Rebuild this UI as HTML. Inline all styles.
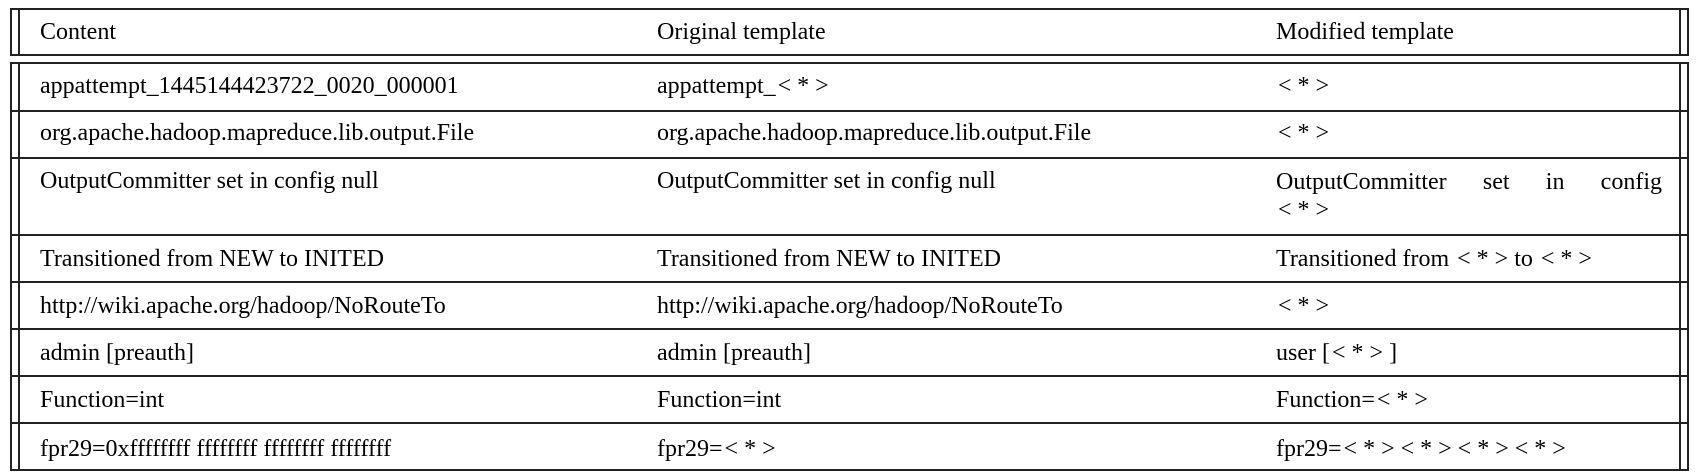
<!DOCTYPE html>
<html><head><meta charset="utf-8"><style>
body{margin:0;width:1696px;height:475px;background:#fff;position:relative;font-family:"Liberation Serif",serif;font-size:24px;color:#000;overflow:hidden}
.h{position:absolute;height:2px;background:#222;left:10px;width:1679px}
.v{position:absolute;width:2px;background:#222}
.t{position:absolute;white-space:nowrap;line-height:26px}
.m{letter-spacing:6px;padding-left:2px}
</style></head><body>
<div class="h" style="top:8px"></div>
<div class="h" style="top:54px"></div>
<div class="v" style="left:10px;top:8px;height:48px"></div>
<div class="v" style="left:18px;top:8px;height:48px"></div>
<div class="v" style="left:1679px;top:8px;height:48px"></div>
<div class="v" style="left:1687px;top:8px;height:48px"></div>
<div class="h" style="top:62px"></div>
<div class="h" style="top:110px"></div>
<div class="h" style="top:157px"></div>
<div class="h" style="top:234px"></div>
<div class="h" style="top:281px"></div>
<div class="h" style="top:328px"></div>
<div class="h" style="top:375px"></div>
<div class="h" style="top:422px"></div>
<div class="h" style="top:469px"></div>
<div class="v" style="left:10px;top:62px;height:409px"></div>
<div class="v" style="left:18px;top:62px;height:409px"></div>
<div class="v" style="left:1679px;top:62px;height:409px"></div>
<div class="v" style="left:1687px;top:62px;height:409px"></div>

<div class="t" style="left:40px;top:19px">Content</div>
<div class="t" style="left:657px;top:19px">Original template</div>
<div class="t" style="left:1276px;top:19px">Modified template</div>

<div class="t" style="left:40px;top:73px">appattempt_1445144423722_0020_000001</div>
<div class="t" style="left:657px;top:73px">appattempt_<span class="m">&lt;*&gt;</span></div>
<div class="t" style="left:1276px;top:73px"><span class="m">&lt;*&gt;</span></div>

<div class="t" style="left:40px;top:120px">org.apache.hadoop.mapreduce.lib.output.File</div>
<div class="t" style="left:657px;top:120px">org.apache.hadoop.mapreduce.lib.output.File</div>
<div class="t" style="left:1276px;top:120px"><span class="m">&lt;*&gt;</span></div>

<div class="t" style="left:40px;top:168px">OutputCommitter set in config null</div>
<div class="t" style="left:657px;top:168px">OutputCommitter set in config null</div>
<div class="t" style="left:1276px;top:169px;width:386px;display:flex;justify-content:space-between"><span>OutputCommitter</span><span>set</span><span>in</span><span>config</span></div>
<div class="t" style="left:1276px;top:197px"><span class="m">&lt;*&gt;</span></div>

<div class="t" style="left:40px;top:246px">Transitioned from NEW to INITED</div>
<div class="t" style="left:657px;top:246px">Transitioned from NEW to INITED</div>
<div class="t" style="left:1276px;top:246px">Transitioned from <span class="m">&lt;*&gt;</span>to <span class="m">&lt;*&gt;</span></div>

<div class="t" style="left:40px;top:293px">http://wiki.apache.org/hadoop/NoRouteTo</div>
<div class="t" style="left:657px;top:293px">http://wiki.apache.org/hadoop/NoRouteTo</div>
<div class="t" style="left:1276px;top:293px"><span class="m">&lt;*&gt;</span></div>

<div class="t" style="left:40px;top:340px">admin [preauth]</div>
<div class="t" style="left:657px;top:340px">admin [preauth]</div>
<div class="t" style="left:1276px;top:340px">user [<span class="m">&lt;*&gt;</span>]</div>

<div class="t" style="left:40px;top:387px">Function=int</div>
<div class="t" style="left:657px;top:387px">Function=int</div>
<div class="t" style="left:1276px;top:387px">Function=<span class="m">&lt;*&gt;</span></div>

<div class="t" style="left:40px;top:436px">fpr29=0xffffffff ffffffff ffffffff ffffffff</div>
<div class="t" style="left:657px;top:436px">fpr29=<span class="m">&lt;*&gt;</span></div>
<div class="t" style="left:1276px;top:436px">fpr29=<span class="m">&lt;*&gt;&lt;*&gt;&lt;*&gt;&lt;*&gt;</span></div>
</body></html>
